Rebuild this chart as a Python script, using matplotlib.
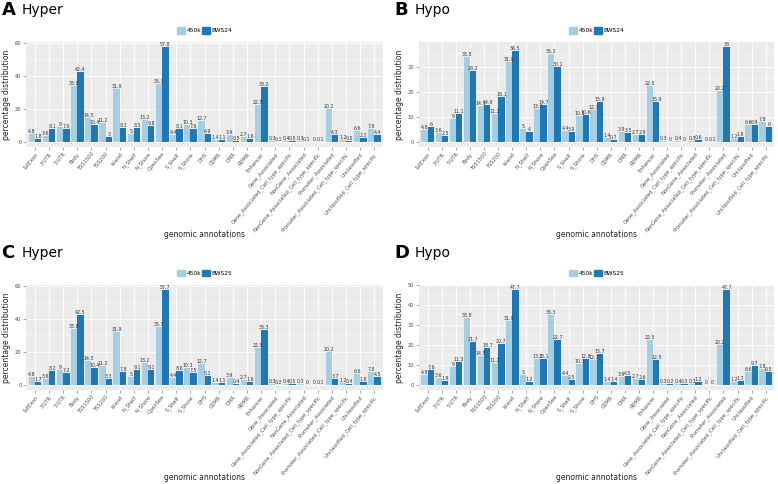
import numpy as np
import matplotlib
matplotlib.use("Agg")
import matplotlib.pyplot as plt
from matplotlib.patches import Patch

categories = ["1stExon", "3'UTR", "5'UTR", "Body", "TSS1500", "TSS200", "Island",
              "N_Shelf", "N_Shore", "OpenSea", "S_Shelf", "S_Shore", "DHS", "CDMR",
              "DMR", "RDMR", "Enhancer", "Gene_Associated",
              "Gene_Associated_Cell_type_specific", "NonGene_Associated",
              "NonGene_Associated_Cell_type_specific", "Promoter_Associated",
              "Promoter_Associated_Cell_type_specific", "Unclassified",
              "Unclassified_Cell_type_specific"]

# background distribution of the array (same in every panel)
array_450k = [4.8, 3.6, 9, 33.8, 14.5, 11.2, 31.9, 5, 13.2, 35.3, 4.4, 10.3, 12.7, 1.4,
              3.9, 2.7, 22.5, 0.3, 0.4, 0.3, 0, 20.2, 1.2, 6.6, 7.8]

bws24_hyper = [1.8, 8.1, 7.6, 42.4, 10.4, 3, 8.3, 8.5, 9.8, 57.8, 8.1, 7.6, 4.9, 1.1,
               0.5, 1.6, 33.2, 0.1, 0.5, 0.1, 0.1, 4.3, 0.5, 2.3, 4.4]
bws24_hypo = [6, 2.5, 11.1, 28.2, 14.9, 18.1, 36.5, 4, 14.7, 30.1, 3.9, 10.6, 15.9, 0.7,
              3.5, 2.9, 15.9, 0, 0, 0.6, 0.1, 38, 1.9, 6.9, 6]
bws25_hyper = [1.7, 8.2, 7.2, 42.5, 10.4, 3.3, 7.8, 9.1, 9.1, 57.7, 8.6, 7.5, 5.1, 1.1,
               0.4, 1.6, 33.3, 0.2, 0.5, 0, 0.1, 3.7, 0.4, 1.8, 4.5]
bws25_hypo = [7.6, 1.9, 11.3, 21.7, 18.7, 20.7, 47.7, 1.2, 13.1, 22.7, 2.5, 12.8, 15.7, 1.4,
              4.5, 2.6, 12.5, 0.2, 0.3, 1.2, 0, 47.7, 1.7, 9.7, 6.5]

panels = [
    ("A", "Hyper", "BWS24", bws24_hyper, [0, 20, 40, 60]),
    ("B", "Hypo", "BWS24", bws24_hypo, [0, 10, 20, 30]),
    ("C", "Hyper", "BWS25", bws25_hyper, [0, 20, 40, 60]),
    ("D", "Hypo", "BWS25", bws25_hypo, [0, 10, 20, 30, 40, 50]),
]

light = "#a6cee3"
dark = "#1f78b4"
bg = "#ebebeb"
txt = "#4d4d4d"

fig = plt.figure(figsize=(7.78, 4.84), dpi=100)

# axes rectangles in figure fraction [left, bottom, width, height]
rects = [
    [0.034, 0.697, 0.458, 0.216],
    [0.539, 0.697, 0.456, 0.216],
    [0.034, 0.195, 0.458, 0.216],
    [0.539, 0.195, 0.456, 0.216],
]

x = np.arange(len(categories))
w = 0.45

for (letter, title, name, values, yt), rect in zip(panels, rects):
    ax = fig.add_axes(rect)
    ax.set_facecolor(bg)
    top = max(max(array_450k), max(values))
    ax.set_ylim(-0.05 * top, 1.05 * top)
    ax.set_xlim(-0.6, len(categories) - 0.4)

    # grid like ggplot theme_gray
    step = yt[1] - yt[0]
    for t in yt:
        ax.axhline(t, color="white", lw=0.6, zorder=0)
    for t in np.arange(yt[0] + step / 2, 1.05 * top, step):
        ax.axhline(t, color="white", lw=0.3, zorder=0)
    for xi in x:
        ax.axvline(xi, color="white", lw=0.6, zorder=0)

    b1 = ax.bar(x - w / 2, array_450k, w, color=light, zorder=2)
    b2 = ax.bar(x + w / 2, values, w, color=dark, zorder=2)
    for bars, vals in ((b1, array_450k), (b2, values)):
        for bar, v in zip(bars, vals):
            ax.text(bar.get_x() + bar.get_width() / 2, bar.get_height(), f"{v:g}",
                    ha="center", va="bottom", fontsize=3.4, color="#333333", zorder=3)

    for s in ax.spines.values():
        s.set_visible(False)
    ax.set_yticks(yt)
    ax.set_yticklabels([str(t) for t in yt])
    ax.set_xticks(x)
    ax.set_xticklabels(categories, rotation=50, ha="right", rotation_mode="anchor")
    ax.tick_params(axis="both", labelsize=3.7, colors="#7f7f7f", labelcolor=txt,
                   length=2, width=0.5, pad=1.5)
    ax.set_ylabel("percentage distribution", fontsize=5.5, color="#222222", labelpad=3)
    ax.set_xlabel("genomic annotations", fontsize=5.5, color="#222222")
    ax.xaxis.set_label_coords(0.5, -0.80)

    ax.legend([Patch(color=light), Patch(color=dark)], ["450k", name],
              loc="lower center", bbox_to_anchor=(0.5, 1.06), ncol=2, frameon=False,
              fontsize=4.2, handlelength=1.4, handleheight=1.4, handletextpad=0.2,
              columnspacing=0.2, borderaxespad=0)

    fx = rect[0] - 0.034
    fy = rect[1] + rect[3] + 0.066
    fig.text(fx + 0.002, fy, letter, fontsize=13, fontweight="bold", va="center")
    fig.text(fx + 0.028, fy, title, fontsize=10, va="center")

fig.savefig("out.png", dpi=100)
